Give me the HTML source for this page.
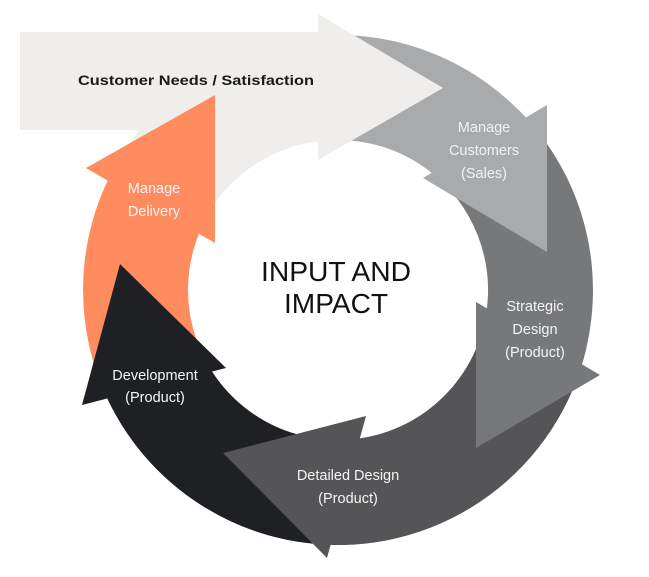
<!DOCTYPE html>
<html><head><meta charset="utf-8"><style>
html,body{margin:0;padding:0;background:#fff;}
svg{display:block;}
text{font-family:"Liberation Sans",sans-serif;}
</style></head><body>
<svg width="649" height="577" viewBox="0 0 649 577" xmlns="http://www.w3.org/2000/svg">
<!-- bodies -->
<path d="M105.1,186.3 A255,255 0 0 1 329.1,35.2 L332.8,140.1 A150,150 0 0 0 200,229 Z" fill="#efeeed"/>
<path d="M112.9,409.7 A255,255 0 0 1 117.2,162.5 L208.1,215 A150,150 0 0 0 205.6,360.4 Z" fill="#fe8c5e"/>
<path d="M346.9,544.8 A255,255 0 0 1 98.4,377.2 L197,341.3 A150,150 0 0 0 343.2,439.9 Z" fill="#1f2023"/>
<path d="M586.5,347.4 A255,255 0 0 1 320.2,544.4 L327.5,439.6 A150,150 0 0 0 484.2,323.8 Z" fill="#555557"/>
<path d="M518.3,109.7 A255,255 0 0 1 580.5,368.8 L480.7,336.4 A150,150 0 0 0 444.1,183.9 Z" fill="#77787a"/>
<path d="M311.4,36.4 A255,255 0 0 1 533.3,126.1 L452.9,193.6 A150,150 0 0 0 322.3,140.8 Z" fill="#a9aaac"/>
<rect x="20" y="32" width="300" height="98" fill="#efeeed"/>
<!-- arrowheads -->
<polygon points="318,14 443,88 318,160" fill="#efeeed"/>
<polygon points="547,105 547,252 423,178" fill="#a9aaac"/>
<polygon points="476,302 600,375 476,448" fill="#77787a"/>
<polygon points="366,416 223,453 327,558" fill="#555557"/>
<polygon points="120,264 226,368 82,405" fill="#1f2023"/>
<polygon points="215,95 86,168 215,243" fill="#fe8c5e"/>
<!-- text -->
<g font-size="14.5" text-anchor="middle">
<text x="196" y="85" fill="#1a1a1a" font-weight="bold" font-size="14" textLength="236" lengthAdjust="spacingAndGlyphs">Customer Needs / Satisfaction</text>
<g fill="#f2f2f2">
<text x="484" y="132">Manage</text>
<text x="484" y="155">Customers</text>
<text x="484" y="178">(Sales)</text>
</g>
<g fill="#f5f5f5">
<text x="535" y="311">Strategic</text>
<text x="535" y="334">Design</text>
<text x="535" y="357">(Product)</text>
<text x="348" y="480">Detailed Design</text>
<text x="348" y="503">(Product)</text>
<text x="155" y="380">Development</text>
<text x="155" y="402">(Product)</text>
<text x="154" y="193">Manage</text>
<text x="154" y="216">Delivery</text>
</g>
<text x="336" y="281" font-size="28" fill="#111" textLength="150" lengthAdjust="spacingAndGlyphs">INPUT AND</text>
<text x="336" y="313" font-size="28" fill="#111" textLength="104" lengthAdjust="spacingAndGlyphs">IMPACT</text>
</g>
</svg>
</body></html>
